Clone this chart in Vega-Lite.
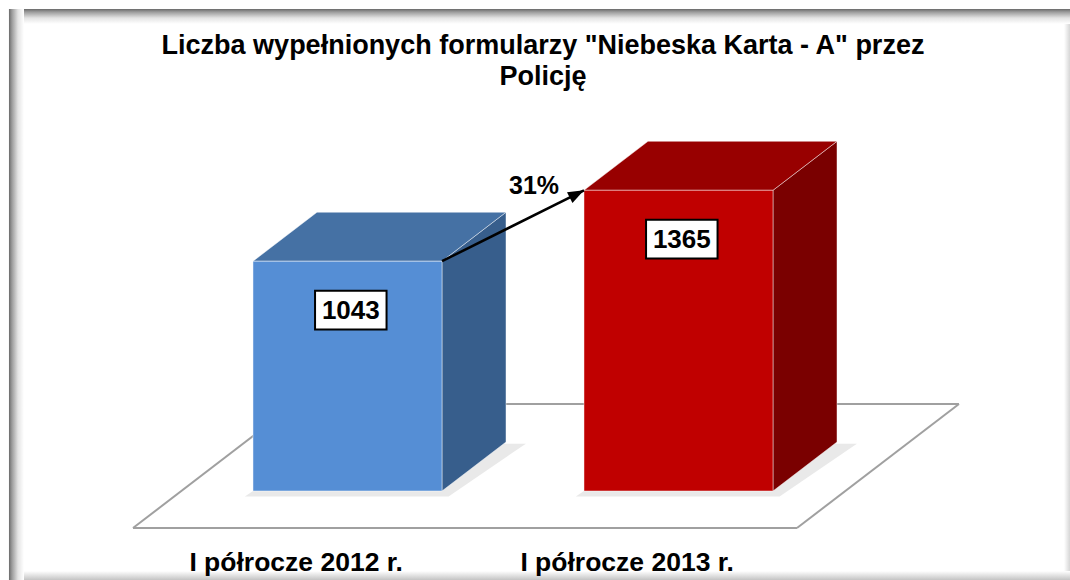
{
  "$schema": "https://vega.github.io/schema/vega-lite/v6.json",
  "width": 1070,
  "height": 580,
  "autosize": "none",
  "padding": 0,
  "background": "#ffffff",
  "title": {
    "text": ["Liczba wypełnionych formularzy \"Niebeska Karta - A\" przez", "Policję"],
    "font": "Liberation Sans",
    "fontSize": 27,
    "fontWeight": "bold",
    "color": "#000000",
    "lineHeight": 31,
    "anchor": "middle",
    "frame": "group",
    "offset": -91,
    "dx": 8
  },
  "data": {
    "values": [
      {"okres": "I półrocze 2012 r.", "liczba": 1043},
      {"okres": "I półrocze 2013 r.", "liczba": 1365}
    ]
  },
  "transform": [
    {"window": [{"op": "row_number", "as": "idx"}, {"op": "lead", "field": "liczba", "as": "nast"}]}
  ],
  "layer": [
    {
      "data": {"values": [{}]},
      "mark": {"type": "rect", "strokeWidth": 0, "fill": {"gradient": "linear", "x1": 0, "y1": 0, "x2": 1, "y2": 0, "stops": [{"offset": 0, "color": "#ffffff"}, {"offset": 1, "color": "#d6d6d6"}]}},
      "encoding": {
        "x": {"datum": 3.1647, "type": "quantitative", "scale": {"domain": [-0.0498, 3.1828], "nice": false, "zero": false}, "axis": null},
        "x2": {"datum": 3.1828},
        "y": {"datum": 2187.9, "type": "quantitative", "scale": {"domain": [-404, 2228.8], "nice": false, "zero": false}, "axis": null},
        "y2": {"datum": -404}
      }
    },
    {
      "data": {"values": [{}]},
      "mark": {"type": "rect", "strokeWidth": 0, "fill": {"gradient": "linear", "x1": 0, "y1": 0, "x2": 0, "y2": 1, "stops": [{"offset": 0, "color": "#ffffff"}, {"offset": 1, "color": "#c4c4c4"}]}},
      "encoding": {
        "x": {"datum": -0.0227, "type": "quantitative", "scale": {"domain": [-0.0498, 3.1828], "nice": false, "zero": false}, "axis": null},
        "x2": {"datum": 3.1828},
        "y": {"datum": -363.1, "type": "quantitative", "scale": {"domain": [-404, 2228.8], "nice": false, "zero": false}, "axis": null},
        "y2": {"datum": -404}
      }
    },
    {
      "data": {"values": [{}]},
      "mark": {"type": "rect", "strokeWidth": 0, "fill": {"gradient": "linear", "x1": 0, "y1": 0, "x2": 0, "y2": 1, "stops": [{"offset": 0, "color": "#6a6a6a"}, {"offset": 0.2, "color": "#9c9c9c"}, {"offset": 0.6, "color": "#e4e4e4"}, {"offset": 1, "color": "#ffffff"}]}},
      "encoding": {
        "x": {"datum": -0.0227, "type": "quantitative", "scale": {"domain": [-0.0498, 3.1828], "nice": false, "zero": false}, "axis": null},
        "x2": {"datum": 3.1828},
        "y": {"datum": 2187.9, "type": "quantitative", "scale": {"domain": [-404, 2228.8], "nice": false, "zero": false}, "axis": null},
        "y2": {"datum": 2119.8}
      }
    },
    {
      "data": {"values": [{}]},
      "mark": {"type": "rect", "strokeWidth": 0, "fill": {"gradient": "linear", "x1": 0, "y1": 0, "x2": 1, "y2": 0, "stops": [{"offset": 0, "color": "#6a6a6a"}, {"offset": 0.2, "color": "#9c9c9c"}, {"offset": 0.6, "color": "#e4e4e4"}, {"offset": 1, "color": "#ffffff"}]}},
      "encoding": {
        "x": {"datum": -0.0227, "type": "quantitative", "scale": {"domain": [-0.0498, 3.1828], "nice": false, "zero": false}, "axis": null},
        "x2": {"datum": 0.0227},
        "y": {"datum": 2187.9, "type": "quantitative", "scale": {"domain": [-404, 2228.8], "nice": false, "zero": false}, "axis": null},
        "y2": {"datum": -404}
      }
    },
    {
      "data": {"values": [{}]},
      "mark": {"type": "rule", "color": "#a0a0a0", "strokeWidth": 2},
      "encoding": {
        "x": {"datum": 0.352, "type": "quantitative", "scale": {"domain": [-0.0498, 3.1828], "nice": false, "zero": false}, "axis": null},
        "x2": {"datum": 2.358},
        "y": {"datum": -168, "type": "quantitative", "scale": {"domain": [-404, 2228.8], "nice": false, "zero": false}, "axis": null},
        "y2": {"datum": -168}
      }
    },
    {
      "data": {"values": [{}]},
      "mark": {"type": "rule", "color": "#a0a0a0", "strokeWidth": 2},
      "encoding": {
        "x": {"datum": 0.8414, "type": "quantitative", "scale": {"domain": [-0.0498, 3.1828], "nice": false, "zero": false}, "axis": null},
        "x2": {"datum": 2.8474},
        "y": {"datum": 394.9, "type": "quantitative", "scale": {"domain": [-404, 2228.8], "nice": false, "zero": false}, "axis": null},
        "y2": {"datum": 394.9}
      }
    },
    {
      "data": {"values": [{}]},
      "mark": {"type": "rule", "color": "#a0a0a0", "strokeWidth": 2},
      "encoding": {
        "x": {"datum": 0.352, "type": "quantitative", "scale": {"domain": [-0.0498, 3.1828], "nice": false, "zero": false}, "axis": null},
        "x2": {"datum": 0.8414},
        "y": {"datum": -168, "type": "quantitative", "scale": {"domain": [-404, 2228.8], "nice": false, "zero": false}, "axis": null},
        "y2": {"datum": 394.9}
      }
    },
    {
      "data": {"values": [{}]},
      "mark": {"type": "rule", "color": "#a0a0a0", "strokeWidth": 2},
      "encoding": {
        "x": {"datum": 2.358, "type": "quantitative", "scale": {"domain": [-0.0498, 3.1828], "nice": false, "zero": false}, "axis": null},
        "x2": {"datum": 2.8474},
        "y": {"datum": -168, "type": "quantitative", "scale": {"domain": [-404, 2228.8], "nice": false, "zero": false}, "axis": null},
        "y2": {"datum": 394.9}
      }
    },
    {
      "transform": [
        {"calculate": "[0, 1]", "as": "t"},
        {"flatten": ["t"]},
        {"calculate": "datum.idx - 0.31 + datum.t * 0.2334", "as": "cx"},
        {"calculate": "datum.idx + 0.3055 + datum.t * 0.2334", "as": "cx2"},
        {"calculate": "-25 + datum.t * 240", "as": "cy"}
      ],
      "mark": {"type": "area", "orient": "horizontal", "color": "#9a9a9a", "opacity": 0.22},
      "encoding": {
        "y": {"field": "cy", "type": "quantitative", "scale": {"domain": [-404, 2228.8], "nice": false, "zero": false}, "axis": null},
        "x": {"field": "cx", "type": "quantitative", "scale": {"domain": [-0.0498, 3.1828], "nice": false, "zero": false}, "axis": null},
        "x2": {"field": "cx2"},
        "detail": {"field": "okres", "type": "nominal"}
      }
    },
    {
      "transform": [
        {"calculate": "[0, 1]", "as": "t"},
        {"flatten": ["t"]},
        {"calculate": "datum.idx + 0.2855 + datum.t * 0.1934", "as": "sx"},
        {"calculate": "datum.liczba + datum.t * 222.4", "as": "sy"},
        {"calculate": "datum.t * 222.4", "as": "sy2"}
      ],
      "mark": {"type": "area", "orient": "vertical", "stroke": "#ffffff", "strokeOpacity": 0.45, "strokeWidth": 1},
      "encoding": {
        "x": {"field": "sx", "type": "quantitative", "scale": {"domain": [-0.0498, 3.1828], "nice": false, "zero": false}, "axis": null},
        "y": {"field": "sy", "type": "quantitative", "scale": {"domain": [-404, 2228.8], "nice": false, "zero": false}, "axis": null},
        "y2": {"field": "sy2"},
        "color": {"field": "okres", "type": "nominal", "scale": {"domain": ["I półrocze 2012 r.", "I półrocze 2013 r."], "range": ["#375E8C", "#7A0000"]}, "legend": null}
      }
    },
    {
      "transform": [
        {"calculate": "[0, 1]", "as": "t"},
        {"flatten": ["t"]},
        {"calculate": "datum.idx - 0.2855 + datum.t * 0.1934", "as": "tx"},
        {"calculate": "datum.idx + 0.2855 + datum.t * 0.1934", "as": "tx2"},
        {"calculate": "datum.liczba + datum.t * 222.4", "as": "ty"}
      ],
      "mark": {"type": "area", "orient": "horizontal", "stroke": "#ffffff", "strokeOpacity": 0.45, "strokeWidth": 1},
      "encoding": {
        "y": {"field": "ty", "type": "quantitative", "scale": {"domain": [-404, 2228.8], "nice": false, "zero": false}, "axis": null},
        "x": {"field": "tx", "type": "quantitative", "scale": {"domain": [-0.0498, 3.1828], "nice": false, "zero": false}, "axis": null},
        "x2": {"field": "tx2"},
        "color": {"field": "okres", "type": "nominal", "scale": {"domain": ["I półrocze 2012 r.", "I półrocze 2013 r."], "range": ["#4571A4", "#980000"]}, "legend": null}
      }
    },
    {
      "transform": [
        {"calculate": "datum.idx - 0.2855", "as": "fx"},
        {"calculate": "datum.idx + 0.2855", "as": "fx2"}
      ],
      "mark": {"type": "rect", "stroke": "#ffffff", "strokeOpacity": 0.45, "strokeWidth": 1},
      "encoding": {
        "x": {"field": "fx", "type": "quantitative", "scale": {"domain": [-0.0498, 3.1828], "nice": false, "zero": false}, "axis": null},
        "x2": {"field": "fx2"},
        "y": {"field": "liczba", "type": "quantitative", "scale": {"domain": [-404, 2228.8], "nice": false, "zero": false}, "axis": null},
        "y2": {"datum": 0},
        "color": {"field": "okres", "type": "nominal", "scale": {"domain": ["I półrocze 2012 r.", "I półrocze 2013 r."], "range": ["#558ED5", "#C00000"]}, "legend": null}
      }
    },
    {
      "transform": [
        {"calculate": "datum.idx + 0.01 - 0.108", "as": "bx"},
        {"calculate": "datum.idx + 0.01 + 0.108", "as": "bx2"},
        {"calculate": "datum.liczba - 222 - 88", "as": "by"},
        {"calculate": "datum.liczba - 222 + 88", "as": "by2"}
      ],
      "mark": {"type": "rect", "fill": "#ffffff", "stroke": "#000000", "strokeWidth": 2},
      "encoding": {
        "x": {"field": "bx", "type": "quantitative", "scale": {"domain": [-0.0498, 3.1828], "nice": false, "zero": false}, "axis": null},
        "x2": {"field": "bx2"},
        "y": {"field": "by", "type": "quantitative", "scale": {"domain": [-404, 2228.8], "nice": false, "zero": false}, "axis": null},
        "y2": {"field": "by2"}
      }
    },
    {
      "transform": [
        {"calculate": "datum.idx + 0.01", "as": "lx"},
        {"calculate": "datum.liczba - 222", "as": "ly"}
      ],
      "mark": {"type": "text", "font": "Liberation Sans", "fontSize": 26, "fontWeight": "bold", "color": "#000000", "align": "center", "baseline": "middle", "dy": 1},
      "encoding": {
        "x": {"field": "lx", "type": "quantitative", "scale": {"domain": [-0.0498, 3.1828], "nice": false, "zero": false}, "axis": null},
        "y": {"field": "ly", "type": "quantitative", "scale": {"domain": [-404, 2228.8], "nice": false, "zero": false}, "axis": null},
        "text": {"field": "liczba", "type": "quantitative", "format": "d"}
      }
    },
    {
      "transform": [
        {"filter": "isValid(datum.nast)"},
        {"calculate": "datum.idx + 0.2855", "as": "ax1"},
        {"calculate": "datum.idx + 1 - 0.2855", "as": "ax2"}
      ],
      "mark": {"type": "rule", "color": "#000000", "strokeWidth": 2.5},
      "encoding": {
        "x": {"field": "ax1", "type": "quantitative", "scale": {"domain": [-0.0498, 3.1828], "nice": false, "zero": false}, "axis": null},
        "x2": {"field": "ax2"},
        "y": {"field": "liczba", "type": "quantitative", "scale": {"domain": [-404, 2228.8], "nice": false, "zero": false}, "axis": null},
        "y2": {"field": "nast"}
      }
    },
    {
      "transform": [
        {"filter": "isValid(datum.nast)"},
        {"calculate": "datum.idx + 1 - 0.2855", "as": "ax2"}
      ],
      "mark": {"type": "point", "shape": "M0,0L-2,-0.75L-2,0.75Z", "size": 256, "angle": 333, "filled": true, "color": "#000000", "opacity": 1, "strokeWidth": 0},
      "encoding": {
        "x": {"field": "ax2", "type": "quantitative", "scale": {"domain": [-0.0498, 3.1828], "nice": false, "zero": false}, "axis": null},
        "y": {"field": "nast", "type": "quantitative", "scale": {"domain": [-404, 2228.8], "nice": false, "zero": false}, "axis": null}
      }
    },
    {
      "transform": [
        {"filter": "isValid(datum.nast)"},
        {"calculate": "datum.idx + 0.5", "as": "mx"},
        {"calculate": "(datum.liczba + datum.nast) / 2", "as": "my"},
        {"calculate": "(datum.nast - datum.liczba) / datum.liczba", "as": "zmiana"}
      ],
      "mark": {"type": "text", "font": "Liberation Sans", "fontSize": 25, "fontWeight": "bold", "color": "#000000", "align": "center", "baseline": "middle", "dx": 21, "dy": -40},
      "encoding": {
        "x": {"field": "mx", "type": "quantitative", "scale": {"domain": [-0.0498, 3.1828], "nice": false, "zero": false}, "axis": null},
        "y": {"field": "my", "type": "quantitative", "scale": {"domain": [-404, 2228.8], "nice": false, "zero": false}, "axis": null},
        "text": {"field": "zmiana", "type": "quantitative", "format": ".0%"}
      }
    },
    {
      "transform": [
        {"calculate": "datum.idx - 0.155", "as": "kx"}
      ],
      "mark": {"type": "text", "font": "Liberation Sans", "fontSize": 26.5, "fontWeight": "bold", "color": "#000000", "align": "center", "baseline": "alphabetic"},
      "encoding": {
        "x": {"field": "kx", "type": "quantitative", "scale": {"domain": [-0.0498, 3.1828], "nice": false, "zero": false}, "axis": null},
        "y": {"datum": -362, "type": "quantitative", "scale": {"domain": [-404, 2228.8], "nice": false, "zero": false}, "axis": null},
        "text": {"field": "okres", "type": "nominal"}
      }
    }
  ],
  "resolve": {"scale": {"color": "independent"}},
  "config": {"view": {"stroke": null}}
}
